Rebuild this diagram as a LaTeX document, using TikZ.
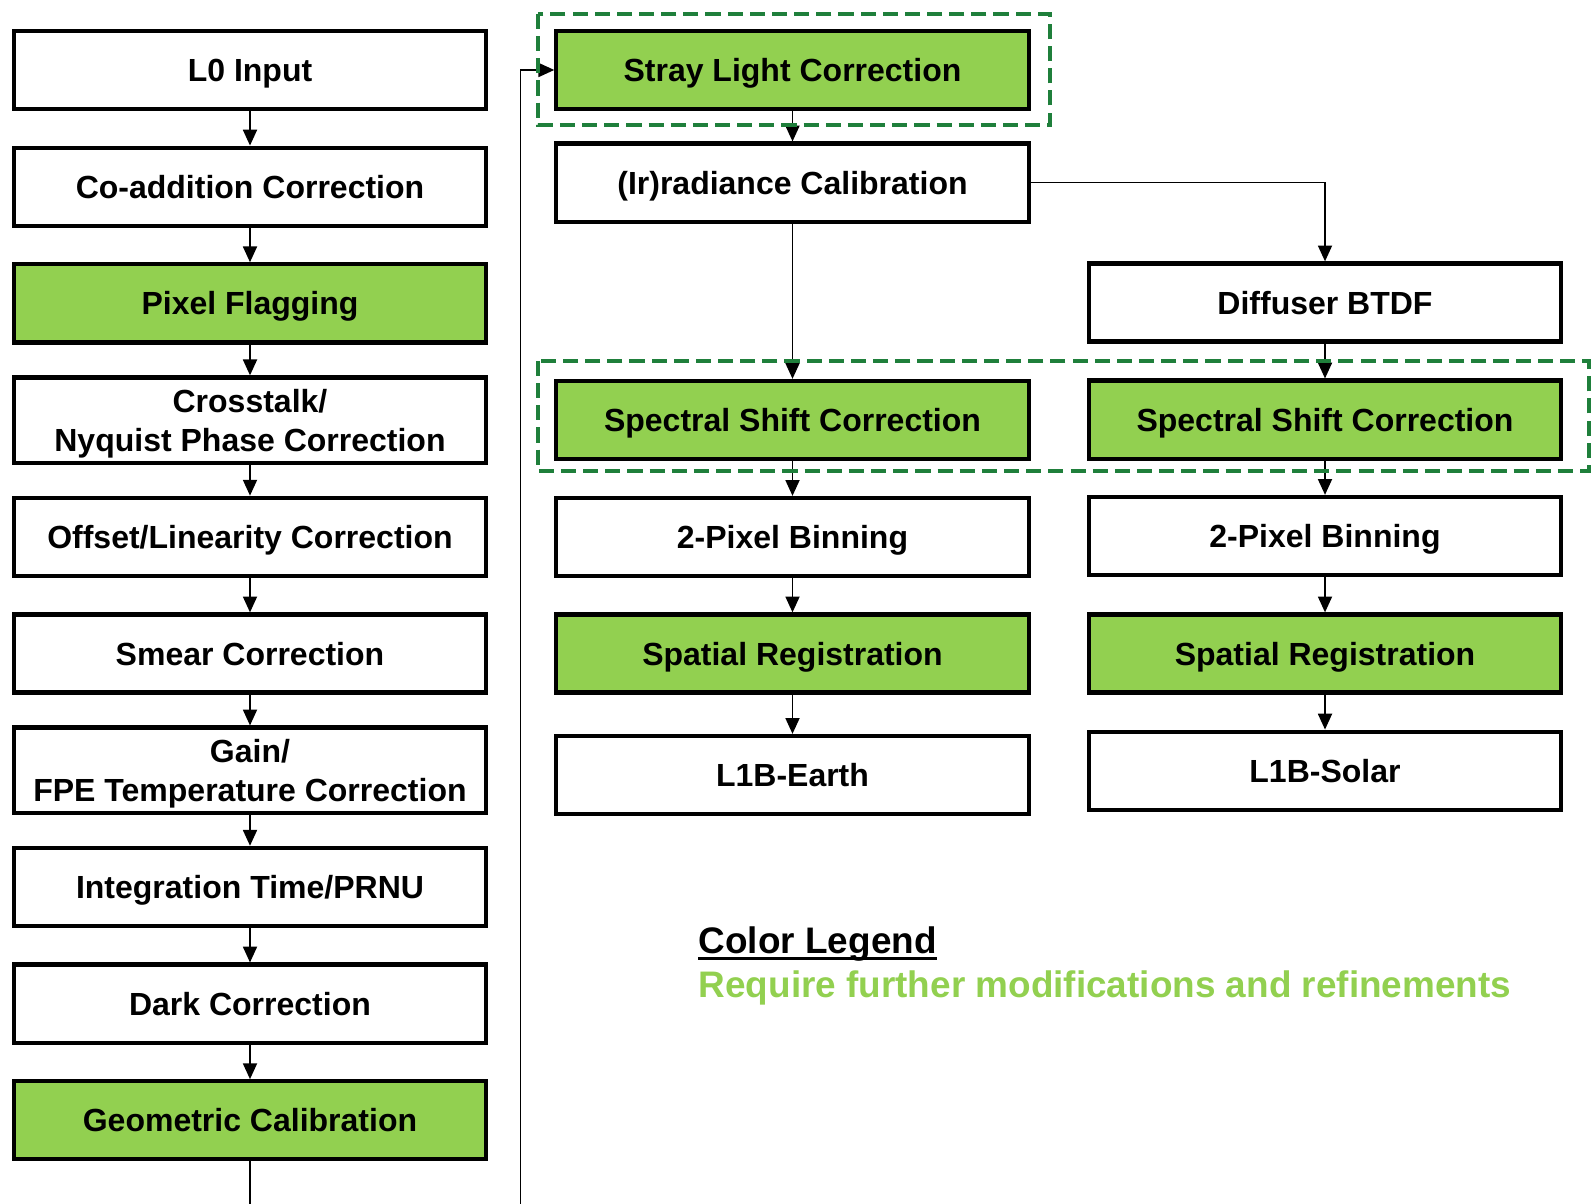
\documentclass[tikz,border=0pt]{standalone}
\usepackage{fontspec}
\setmainfont{Liberation Sans}
\usetikzlibrary{arrows.meta}

\definecolor{todogreen}{HTML}{92D050}
\definecolor{framegreen}{HTML}{1F7F3B}

\begin{document}
\begin{tikzpicture}[x=0.01cm, y=-0.01cm,
	proc/.style={draw, line width=1.2pt, minimum width=4.72cm, minimum height=0.78cm,
		align=center, text depth=0pt, font=\fontsize{9.1}{11}\selectfont\bfseries},
	todo/.style={proc, fill=todogreen},
	flow/.style={-{Triangle[length=4.5pt, width=4pt]}, line width=0.45pt},
	group/.style={draw=framegreen, line width=1.2pt, dash pattern=on 4.3pt off 2pt}]
	\useasboundingbox (0,0) rectangle (1591,1204);

	% Linke Spalte
	\node[proc] (l0)    at (250,70)    {L0 Input};
	\node[proc] (coadd) at (250,186.7) {Co-addition Correction};
	\node[todo] (flag)  at (250,303.4) {Pixel Flagging};
	\node[proc] (cross) at (250,420.1) {Crosstalk/\\Nyquist Phase Correction};
	\node[proc] (offs)  at (250,536.8) {Offset/Linearity Correction};
	\node[proc] (smear) at (250,653.5) {Smear Correction};
	\node[proc] (gain)  at (250,770.2) {Gain/\\FPE Temperature Correction};
	\node[proc] (integ) at (250,886.9) {Integration Time/PRNU};
	\node[proc] (dark)  at (250,1003.6) {Dark Correction};
	\node[todo] (geo)   at (250,1120.3) {Geometric Calibration};

	\foreach \a/\b in {l0/coadd, coadd/flag, flag/cross, cross/offs, offs/smear,
		smear/gain, gain/integ, integ/dark, dark/geo}
		\draw[flow] (\a.south) -- (\b.north);

	% Mittlere Spalte (Erde)
	\node[todo] (stray) at (792.5,70)    {Stray Light Correction};
	\node[proc] (irr)   at (792.5,182.6) {(Ir)radiance Calibration};
	\node[todo] (ssE)   at (792.5,420)   {Spectral Shift Correction};
	\node[proc] (binE)  at (792.5,537)   {2-Pixel Binning};
	\node[todo] (regE)  at (792.5,653.5) {Spatial Registration};
	\node[proc] (earth) at (792.5,775)   {L1B-Earth};

	% Rechte Spalte (Sonne)
	\node[proc] (diff)  at (1325,302.5) {Diffuser BTDF};
	\node[todo] (ssS)   at (1325,419.6) {Spectral Shift Correction};
	\node[proc] (binS)  at (1325,536)   {2-Pixel Binning};
	\node[todo] (regS)  at (1325,653.5) {Spatial Registration};
	\node[proc] (solar) at (1325,770.7) {L1B-Solar};

	\foreach \a/\b in {stray/irr, irr/ssE, ssE/binE, binE/regE, regE/earth,
		diff/ssS, ssS/binS, binS/regS, regS/solar}
		\draw[flow] (\a.south) -- (\b.north);
	\draw[flow] (irr.east) -| (diff.north);

	% Rueckfuehrung von unten
	\coordinate (cutA) at (250,1204);
	\coordinate (cutB) at (520.5,1204);
	\draw[line width=0.45pt] (geo.south) -- (cutA);
	\draw[flow] (cutB) |- (stray.west);

	% Gestrichelte Gruppen
	\draw[group] (538,14) rectangle (1050,125);
	\draw[group] (538,361) rectangle (1589,471);

	% Legende
	\node[anchor=base west, inner sep=0pt, font=\fontsize{10.5}{12}\selectfont\bfseries]
		(legtitle) at (698,954) {Color Legend};
	\draw[line width=0.9pt] ([yshift=-1.2pt]legtitle.base west) -- ([yshift=-1.2pt]legtitle.base east);
	\node[anchor=base west, inner sep=0pt, text=todogreen, font=\fontsize{10.5}{12}\selectfont\bfseries]
		(legnote) at (698,997) {Require further modifications and refinements};
\end{tikzpicture}
\end{document}
